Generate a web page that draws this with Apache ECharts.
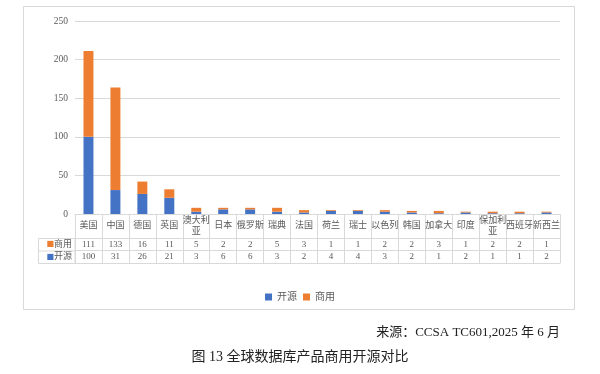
<!DOCTYPE html>
<html><head><meta charset="utf-8">
<script src="https://cdn.jsdelivr.net/npm/echarts@6/dist/echarts.min.js"></script>
<style>html,body{margin:0;padding:0;background:#fff}#c{width:600px;height:374px}</style>
</head><body><div id="c"></div>
<script>
const categories = ['美国','中国','德国','英国','澳大利亚','日本','俄罗斯','瑞典','法国','荷兰','瑞士','以色列','韩国','加拿大','印度','保加利亚','西班牙','新西兰'];
const commercial = [111,133,16,11,5,2,2,5,3,1,1,2,2,3,1,2,2,1];
const openSource = [100,31,26,21,3,6,6,3,2,4,4,3,2,1,2,1,1,2];
const yTicks = [0,50,100,150,200,250];

const W = 600, H = 374;
const gL = 75, gR = 560, gT = 21, gB = 214;
const hdrH = 24, rowH = 12.5;
const gridColor = '#d9d9d9';
const txt = '#595959';
const ff = '"Liberation Serif", "Noto Sans CJK SC", serif';
const blue = '#4472C4', orange = '#ED7D31';

const chart = echarts.init(document.getElementById('c'), null, {renderer:'canvas'});

function rowAxis(offset, values, name, color) {
  return {
    type:'category', data: categories, position:'bottom', offset: offset,
    axisLine:{show:true, lineStyle:{color:gridColor, width:1}},
    axisTick:{show: values !== null, length: rowH, interval:0, lineStyle:{color:gridColor}},
    axisLabel:{show: values !== null, interval:0, margin: rowH/2, verticalAlign:'middle',
      fontFamily: ff, fontSize: 9, color: txt,
      formatter: (v, i) => values ? String(values[i]) : ''},
    name: name || '', nameLocation:'start', nameGap: 3,
    nameTextStyle:{fontFamily: ff, fontSize: 9, color: txt, verticalAlign:'middle',
      padding:[rowH, 0, 0, 0],
      rich:{sq:{color: color, fontSize: 8, fontFamily:'DejaVu Sans'}}},
    splitLine:{show:false}
  };
}

const option = {
  backgroundColor:'#fff',
  animation:false,
  grid:{left:gL, right: W-gR, top:gT, bottom: H-gB},
  legend:{
    top: 287, left:'center', itemWidth:7, itemHeight:7, itemGap:6, icon:'rect',
    textStyle:{fontFamily: ff, fontSize:10, color: txt},
    data:['开源','商用']
  },
  title:[
    {text:'来源：CCSA TC601,2025 年 6 月', right: 35, top: 321,
     textStyle:{fontFamily: ff, fontSize: 13, fontWeight:'normal', color:'#222'}},
    {text:'图 13 全球数据库产品商用开源对比', left:'center', top: 345,
     textStyle:{fontFamily: ff, fontSize: 14, fontWeight:'normal', color:'#222'}}
  ],
  xAxis:[
    {
      type:'category', data: categories, position:'bottom',
      axisLine:{show:true, lineStyle:{color:gridColor}},
      axisTick:{show:true, length: hdrH, interval:0, lineStyle:{color:gridColor}},
      axisLabel:{interval:0, margin: hdrH/2, verticalAlign:'middle', align:'center',
        fontFamily: ff, fontSize: 9, lineHeight: 11, color: txt,
        formatter: v => v.length > 3 ? v.slice(0,3) + '\n' + v.slice(3) : v}
    },
    rowAxis(hdrH, commercial, '{sq|■}商用', orange),
    rowAxis(hdrH + rowH, openSource, '{sq|■}开源', blue),
    rowAxis(hdrH + 2*rowH, null, '', null)
  ],
  yAxis:{
    type:'value', min: yTicks[0], max: yTicks[yTicks.length-1], interval: yTicks[1]-yTicks[0],
    axisLine:{show:false}, axisTick:{show:false},
    axisLabel:{fontFamily: ff, fontSize: 9.5, color: txt, margin: 7},
    splitLine:{lineStyle:{color:gridColor, width:1}}
  },
  series:[
    {name:'开源', type:'bar', stack:'s', data: openSource, barWidth:'37%', itemStyle:{color: blue}},
    {name:'商用', type:'bar', stack:'s', data: commercial, barWidth:'37%', itemStyle:{color: orange}}
  ],
  graphic:[
    {type:'rect', shape:{x:23.5, y:6.5, width:551, height:303}, style:{fill:null, stroke:gridColor, lineWidth:1}, silent:true},
    {type:'rect', shape:{x:38.5, y:gB+hdrH+0.5, width:gL-38.5, height:2*rowH}, style:{fill:null, stroke:gridColor, lineWidth:1}, silent:true},
    {type:'line', shape:{x1:38.5, y1:gB+hdrH+rowH+0.5, x2:gL, y2:gB+hdrH+rowH+0.5}, style:{stroke:gridColor, lineWidth:1}, silent:true}
  ]
};
chart.setOption(option);
</script></body></html>
